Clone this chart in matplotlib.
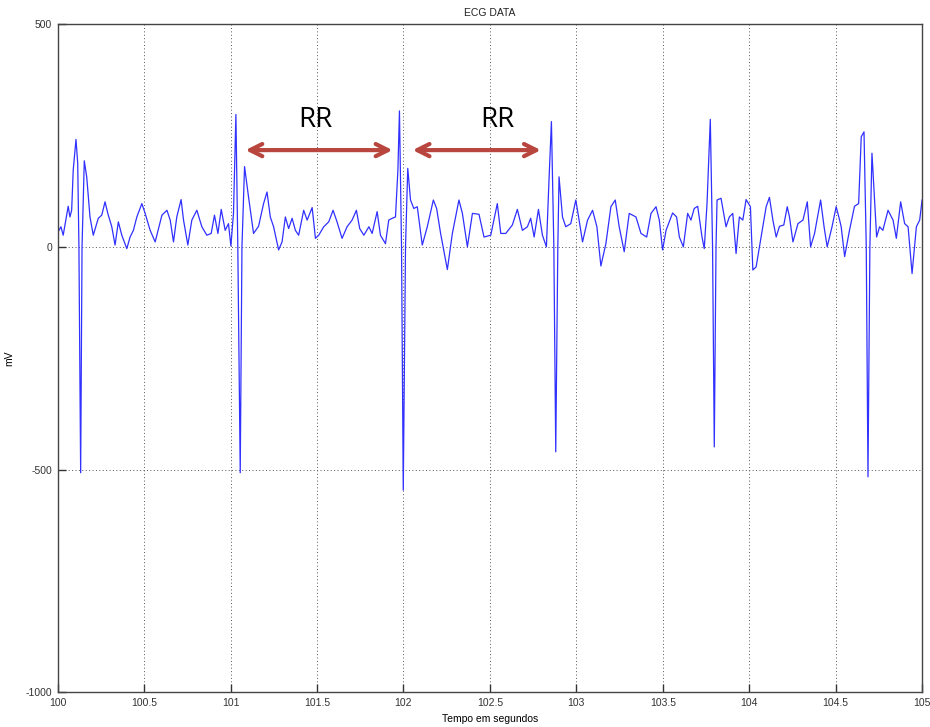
import matplotlib.pyplot as plt

# ECG trace: time (s) and amplitude (mV)
tempo = [100.003, 100.019, 100.032, 100.061, 100.071, 100.081, 100.090, 100.106, 100.116, 100.123,
         100.133, 100.141, 100.154, 100.168, 100.187, 100.206, 100.235, 100.255, 100.274, 100.290,
         100.313, 100.332, 100.351, 100.371, 100.400, 100.419, 100.438, 100.458, 100.487, 100.506,
         100.535, 100.564, 100.603, 100.632, 100.651, 100.670, 100.689, 100.714, 100.728, 100.753,
         100.776, 100.805, 100.834, 100.863, 100.888, 100.907, 100.927, 100.946, 100.969, 100.988,
         101.002, 101.017, 101.031, 101.042, 101.056, 101.066, 101.081, 101.104, 101.133, 101.162,
         101.191, 101.211, 101.230, 101.249, 101.278, 101.298, 101.317, 101.336, 101.356, 101.375,
         101.394, 101.423, 101.443, 101.472, 101.491, 101.510, 101.539, 101.568, 101.593, 101.616,
         101.645, 101.674, 101.703, 101.728, 101.747, 101.771, 101.800, 101.819, 101.848, 101.867,
         101.896, 101.915, 101.935, 101.954, 101.968, 101.977, 101.989, 101.999, 102.012, 102.025,
         102.041, 102.060, 102.080, 102.109, 102.138, 102.173, 102.192, 102.215, 102.254, 102.283,
         102.321, 102.341, 102.370, 102.399, 102.437, 102.466, 102.505, 102.543, 102.563, 102.592,
         102.630, 102.659, 102.688, 102.717, 102.736, 102.756, 102.781, 102.804, 102.827, 102.842,
         102.856, 102.870, 102.881, 102.893, 102.900, 102.920, 102.939, 102.968, 102.997, 103.016,
         103.036, 103.065, 103.094, 103.119, 103.142, 103.171, 103.200, 103.225, 103.248, 103.277,
         103.306, 103.345, 103.374, 103.407, 103.432, 103.461, 103.480, 103.499, 103.519, 103.557,
         103.580, 103.596, 103.619, 103.644, 103.663, 103.682, 103.702, 103.727, 103.740, 103.756,
         103.775, 103.788, 103.798, 103.808, 103.814, 103.837, 103.866, 103.885, 103.905, 103.924,
         103.943, 103.963, 103.982, 104.007, 104.021, 104.040, 104.069, 104.098, 104.117, 104.137,
         104.156, 104.175, 104.200, 104.220, 104.233, 104.253, 104.282, 104.311, 104.336, 104.355,
         104.378, 104.413, 104.433, 104.451, 104.479, 104.503, 104.523, 104.532, 104.552, 104.580,
         104.609, 104.633, 104.648, 104.664, 104.677, 104.687, 104.698, 104.710, 104.737, 104.754,
         104.773, 104.803, 104.832, 104.851, 104.876, 104.899, 104.919, 104.942, 104.967, 104.986,
         105.000]
mv = [34, 45, 26, 91, 67, 82, 172, 241, 187, 0,
      -507, 0, 193, 157, 67, 26, 64, 71, 101, 75,
      45, 4, 56, 26, -4, 22, 37, 67, 97, 75,
      37, 11, 71, 82, 60, 11, 67, 106, 60, 4,
      60, 82, 45, 26, 30, 71, 30, 84, 37, 52,
      2, 75, 297, 0, -507, 0, 180, 112, 30, 46,
      97, 123, 67, 45, -7, 11, 67, 41, 64, 37,
      26, 82, 60, 88, 19, 26, 45, 56, 82, 56,
      19, 45, 60, 82, 41, 26, 45, 30, 79, 26,
      7, 60, 64, 67, 172, 305, 0, -546, 0, 176,
      105, 86, 90, 4, 45, 105, 86, 30, -51, 30,
      105, 75, 0, 75, 73, 22, 26, 97, 30, 30,
      49, 84, 37, 45, 64, 22, 84, 26, 0, 150,
      281, 0, -460, 0, 157, 67, 45, 52, 105, 60,
      11, 60, 82, 45, -43, 7, 90, 105, 45, -11,
      75, 67, 30, 22, 75, 90, 60, -7, 37, 76,
      67, 22, 0, 75, 60, 86, 91, 22, -4, 97,
      286, 0, -449, 0, 105, 109, 45, 67, 75, -15,
      67, 60, 106, 90, -52, -45, 22, 90, 111, 60,
      22, 46, 49, 90, 67, 11, 52, 60, 101, 0,
      30, 105, 45, 0, 45, 90, 60, 45, -22, 37,
      91, 97, 247, 258, 0, -516, 0, 210, 22, 45,
      37, 82, 60, 19, 101, 52, 45, -60, 45, 60,
      105]

# RR interval arrows: (start, end) in seconds
rr_inicio = [101.086, 102.053]
rr_fim = [101.937, 102.795]
rr_nivel = 217
rr_texto_x = [101.491, 102.545]
rr_texto_y = 284

plt.rcParams['font.family'] = ['Liberation Sans', 'DejaVu Sans']
plt.rcParams['axes.unicode_minus'] = False

fig = plt.figure(figsize=(9.3, 7.27), dpi=100)
ax = fig.add_axes([0.062, 0.0475, 0.9295, 0.9195])

ax.plot(tempo, mv, color='#3030ff', lw=0.9)

for a, b in zip(rr_inicio, rr_fim):
    ax.annotate('', xy=(b, rr_nivel), xytext=(a, rr_nivel),
                arrowprops=dict(arrowstyle='<->', color='#b8463e', lw=3,
                                mutation_scale=22, shrinkA=0, shrinkB=0))
for x in rr_texto_x:
    ax.text(x, rr_texto_y, 'RR', fontsize=20, ha='center', va='center',
            family='Open Sans', color='black')

ax.set_xlim(100, 105)
ax.set_ylim(-1000, 500)
ax.set_xticks([100, 100.5, 101, 101.5, 102, 102.5, 103, 103.5, 104, 104.5, 105])
ax.set_xticklabels(['100', '100.5', '101', '101.5', '102', '102.5', '103', '103.5', '104', '104.5', '105'])
ax.set_yticks([-1000, -500, 0, 500])
ax.grid(True, linestyle=(0, (1, 2.5)), color='#555555', lw=0.7)
ax.tick_params(direction='in', length=6, width=1, colors='#333333', labelsize=7.5, pad=4)
for s in ax.spines.values():
    s.set_color('#444444')
    s.set_linewidth(1)

ax.set_title('ECG DATA', fontsize=7.5, color='#222222', pad=6)
ax.set_xlabel('Tempo em segundos', fontsize=7.5, labelpad=4)
ax.set_ylabel('mV', fontsize=7.5)
ax.yaxis.set_label_coords(-0.05, 0.5)

fig.savefig('out.png', dpi=100)
